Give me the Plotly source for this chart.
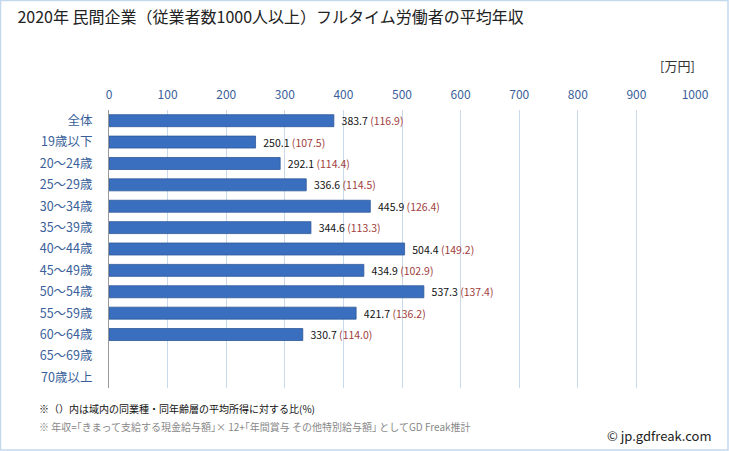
import plotly.graph_objects as go

categories = ["全体", "19歳以下", "20～24歳", "25～29歳", "30～34歳", "35～39歳", "40～44歳",
              "45～49歳", "50～54歳", "55～59歳", "60～64歳", "65～69歳", "70歳以上"]
values = [383.7, 250.1, 292.1, 336.6, 445.9, 344.6, 504.4, 434.9, 537.3, 421.7, 330.7, None, None]
ratios = [116.9, 107.5, 114.4, 114.5, 126.4, 113.3, 149.2, 102.9, 137.4, 136.2, 114.0, None, None]
tick_vals = [0, 100, 200, 300, 400, 500, 600, 700, 800, 900, 1000]

FONT = "Noto Sans CJK JP"
texts = []
for v, r in zip(values, ratios):
    if v is None:
        texts.append("")
    else:
        texts.append(f"\u00a0\u00a0{v:.1f} <span style='color:#a0403c'>({r:.1f})</span>")

fig = go.Figure()
fig.add_trace(go.Bar(
    y=categories, x=values, orientation="h",
    marker=dict(color="#3a6fbf", line=dict(color="#2d5898", width=0.8)),
    width=0.56,
    text=texts, textposition="outside", cliponaxis=False, constraintext="none",
    textfont=dict(family=FONT, size=10.5, color="#111111"),
    hoverinfo="skip",
))

fig.update_layout(
    width=729, height=451,
    margin=dict(l=109, r=34, t=110, b=63, autoexpand=False),
    paper_bgcolor="white", plot_bgcolor="white",
    showlegend=False,
    font=dict(family=FONT),
    title=dict(text="2020年 民間企業（従業者数1000人以上）フルタイム労働者の平均年収",
               x=0.024, xanchor="left", y=0.962, yanchor="middle",
               font=dict(size=16, color="#222222", family=FONT)),
    xaxis=dict(side="top", range=[0, 1000], tickvals=tick_vals, automargin=False,
               showgrid=True, gridcolor="#c9d9ea", gridwidth=1,
               zeroline=False, showline=False,
               tickfont=dict(size=12, color="#3a5f9a", family=FONT),
               ticks="", ticklabelstandoff=8),
    yaxis=dict(autorange="reversed", showline=True, linecolor="#999999", linewidth=1,
               automargin=False,
               ticks="", tickfont=dict(size=12.5, color="#3a5f9a", family=FONT),
               ticklabelstandoff=13),
    bargap=0.44,
)

# outer border
fig.add_shape(type="rect", xref="paper", yref="paper",
              x0=-108.5/586, x1=1 + 33/586, y0=-62/278, y1=1 + 109.5/278,
              line=dict(color="#c5d9ee", width=1.5), layer="below")

fig.add_annotation(text="[万円]", xref="paper", yref="paper", x=1 + 2/586, y=1 + 45/278,
                   xanchor="right", yanchor="middle", showarrow=False,
                   font=dict(size=13, color="#333333", family=FONT))
fig.add_annotation(text="※（）内は域内の同業種・同年齢層の平均所得に対する比(%)",
                   xref="paper", yref="paper", x=-72/586, y=-20/278,
                   xanchor="left", yanchor="middle", showarrow=False,
                   font=dict(size=10, color="#111111", family=FONT))
fig.add_annotation(text="※ 年収=｢きまって支給する現金給与額｣× 12+｢年間賞与 その他特別給与額｣ としてGD Freak推計",
                   xref="paper", yref="paper", x=-72/586, y=-38/278,
                   xanchor="left", yanchor="middle", showarrow=False,
                   font=dict(size=10, color="#888888", family=FONT))
fig.add_annotation(text="© jp.gdfreak.com",
                   xref="paper", yref="paper", x=1 + 19/586, y=-47/278,
                   xanchor="right", yanchor="middle", showarrow=False,
                   font=dict(size=13, color="#222222", family=FONT))

fig.write_html("out.html", config={"displayModeBar": False},
               post_script="document.body.style.margin='0';document.body.style.overflow='hidden';")
